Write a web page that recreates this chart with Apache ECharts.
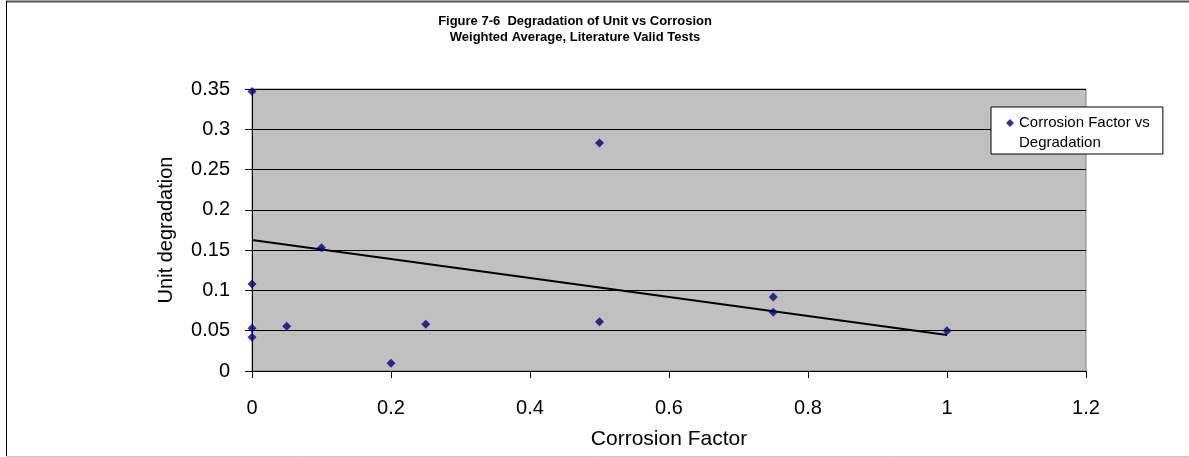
<!DOCTYPE html>
<html>
<head>
<meta charset="utf-8">
<script src="https://cdn.jsdelivr.net/npm/echarts@6/dist/echarts.min.js"></script>
<style>
html,body{margin:0;padding:0;background:#fff;}
#chart{width:1189px;height:457px;}
</style>
</head>
<body>
<div id="chart"></div>
<script>
// Data
const corrosionFactor = [0, 0, 0, 0, 0.05, 0.1, 0.2, 0.25, 0.5, 0.5, 0.75, 0.75, 1];
const unitDegradation = [0.347, 0.108, 0.053, 0.042, 0.0555, 0.153, 0.0095, 0.058, 0.283, 0.061, 0.0918, 0.0728, 0.050];
// Trendline endpoints as drawn in the picture
const trendX = [0, 1];
const trendY = [0.1626, 0.0447];
const xTicks = [0, 0.2, 0.4, 0.6, 0.8, 1, 1.2];
const yTicks = [0, 0.05, 0.1, 0.15, 0.2, 0.25, 0.3, 0.35];
const seriesName = 'Corrosion Factor vs Degradation';
const legendLines = ['Corrosion Factor vs', 'Degradation'];
const titleLines = ['Figure 7-6  Degradation of Unit vs Corrosion', 'Weighted Average, Literature Valid Tests'];

const scatterData = corrosionFactor.map((x, i) => [x, unitDegradation[i]]);
const trendData = trendX.map((x, i) => [x, trendY[i]]);

const FONT = '"Liberation Sans", Arial, sans-serif';
const chart = echarts.init(document.getElementById('chart'), null, {renderer: 'canvas'});
chart.setOption({
  animation: false,
  backgroundColor: '#ffffff',
  textStyle: {fontFamily: FONT},
  title: {
    text: titleLines.join('\n'),
    left: 570,
    textAlign: 'center',
    top: 8,
    textStyle: {fontFamily: FONT, fontSize: 13, fontWeight: 'bold', color: '#000', lineHeight: 16}
  },
  grid: {
    left: 252, right: 103, top: 89, bottom: 86,
    show: true, backgroundColor: '#c0c0c0', borderColor: '#808080', borderWidth: 1
  },
  legend: {
    data: [seriesName],
    left: 991, top: 107,
    orient: 'vertical',
    backgroundColor: '#ffffff',
    borderColor: '#000000', borderWidth: 1, borderRadius: 0,
    padding: [6, 13, 1, 15],
    itemWidth: 8, itemHeight: 28, itemGap: 4,
    icon: 'path://M4,0 L8,4 L4,8 L0,4 Z M0,28',
    formatter: () => legendLines.join('\n'),
    textStyle: {fontFamily: FONT, fontSize: 15, color: '#000', lineHeight: 20}
  },
  xAxis: {
    type: 'value', min: 0, max: 1.2, interval: 0.2,
    name: 'Corrosion Factor', nameLocation: 'middle', nameGap: 58,
    nameTextStyle: {fontFamily: FONT, fontSize: 21, color: '#000'},
    axisLine: {show: true, onZero: false, lineStyle: {color: '#000', width: 1}},
    axisTick: {show: true, length: 7, lineStyle: {color: '#000'}},
    axisLabel: {fontFamily: FONT, fontSize: 20, color: '#000', margin: 27,
      formatter: v => { const t = xTicks.find(k => Math.abs(k - v) < 1e-9); return t === undefined ? '' : String(t); }},
    splitLine: {show: false}
  },
  yAxis: {
    type: 'value', min: 0, max: 0.35, interval: 0.05,
    name: 'Unit degradation', nameLocation: 'middle', nameGap: 76, nameRotate: 90,
    nameTextStyle: {fontFamily: FONT, fontSize: 20, color: '#000'},
    axisLine: {show: true, onZero: false, lineStyle: {color: '#000', width: 1}},
    axisTick: {show: true, length: 7, lineStyle: {color: '#000'}},
    axisLabel: {fontFamily: FONT, fontSize: 20, color: '#000', margin: 22,
      formatter: v => { const t = yTicks.find(k => Math.abs(k - v) < 1e-9); return t === undefined ? '' : String(t); }},
    splitLine: {show: true, lineStyle: {color: '#000', width: 1}}
  },
  series: [
    {
      name: 'trend', type: 'line', data: trendData,
      showSymbol: false, symbol: 'none', silent: true,
      lineStyle: {color: '#000', width: 2}, z: 2
    },
    {
      name: seriesName, type: 'scatter', data: scatterData,
      symbol: 'diamond', symbolSize: 9,
      itemStyle: {color: '#000080'}, z: 3
    }
  ],
  graphic: [
    {type: 'line', shape: {x1: 6, y1: 1.5, x2: 1189, y2: 1.5}, style: {stroke: '#555', lineWidth: 2}},
    {type: 'line', shape: {x1: 6.5, y1: 1, x2: 6.5, y2: 456}, style: {stroke: '#000', lineWidth: 1}},
    {type: 'line', shape: {x1: 6, y1: 456.5, x2: 1189, y2: 456.5}, style: {stroke: '#c8c8c8', lineWidth: 1}}
  ]
});
</script>
</body>
</html>
